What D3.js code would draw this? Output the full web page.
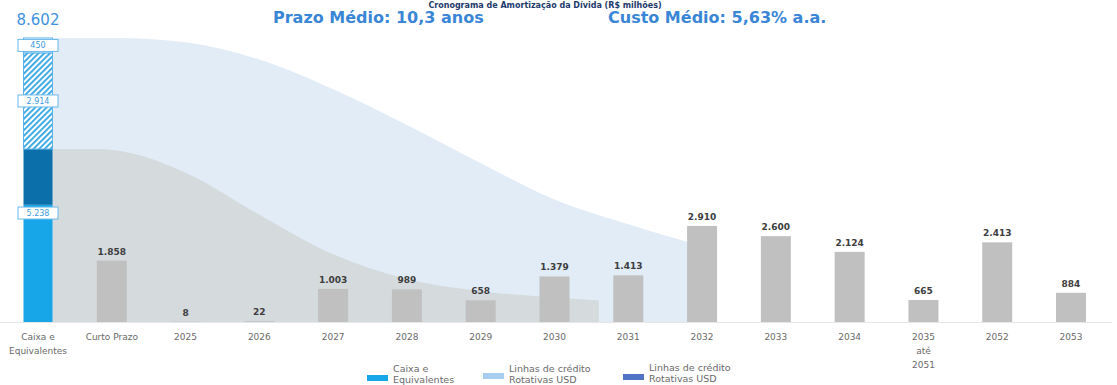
<!DOCTYPE html>
<html><head><meta charset="utf-8">
<script src="https://cdn.jsdelivr.net/npm/d3@7"></script>
<style>body{margin:0;background:#fff;} svg{display:block;}</style>
</head><body>
<svg id="c" width="1117" height="385"></svg>
<script>
// ---------- DATA ----------
const categories = ["Caixa e\nEquivalentes","Curto Prazo","2025","2026","2027","2028","2029","2030","2031","2032","2033","2034","2035\naté\n2051","2052","2053"];
const debtValues = [null,1858,8,22,1003,989,658,1379,1413,2910,2600,2124,665,2413,884];
const cashKeys = ["caixa","equivalentes","rotativasHatch","rotativasTop"];
const cashValues = [3550,1688,2914,450];
const cashBoxLabels = [5238,2914,450];
const cashTotal = 8602;
// liquidity envelope curves: [category position, value]
const lightCurve = [[0,8602],[1,8600],[1.6,8560],[2,8470],[3,7950],[4,7050],[5,5970],[6,4810],[7,3710],[8,2960],[9,2300]];
const grayCurve = [[0,5238],[0.8,5238],[1.25,5120],[2,4520],[3,3250],[4,2050],[5,1300],[6,930],[7,740],[7.6,650]];
const titleText = "Cronograma de Amortização da Dívida (R$ milhões)";
const subtitles = ["Prazo Médio: 10,3 anos","Custo Médio: 5,63% a.a."];
const legendLabels = [["Caixa e","Equivalentes"],["Linhas de crédito","Rotativas USD"],["Linhas de crédito","Rotativas USD"]];

// ---------- STYLE ----------
const cashColors = {caixa:"#17a6e8", equivalentes:"#0b70aa", rotativasHatch:"url(#hatch)", rotativasTop:"#ffffff"};
const legendColors = ["#17a6e8","#a9cdee","#5073c6"];

const loc = d3.formatLocale({decimal:",", thousands:".", grouping:[3], currency:["R$",""]});
const fmt = loc.format(",d");

const svg = d3.select("#c");
const defs = svg.append("defs");
const pat = defs.append("pattern").attr("id","hatch").attr("patternUnits","userSpaceOnUse")
  .attr("width",4).attr("height",4).attr("patternTransform","rotate(45)");
pat.append("rect").attr("width",4).attr("height",4).attr("fill","#ffffff");
pat.append("rect").attr("width",1.8).attr("height",4).attr("fill","#2ea3e2");

const baseY = 322, topY = 38;
const x = d3.scalePoint().domain(categories).range([38,1071]);
const xi = d3.scaleLinear().domain([0,categories.length-1]).range([38,1071]);
const y = d3.scaleLinear().domain([0,cashTotal]).range([baseY,topY]);
const barW = 30;

// background envelopes
const area = d3.area().x(d=>xi(d[0])).y0(baseY).y1(d=>y(d[1])).curve(d3.curveMonotoneX);
svg.append("path").datum(lightCurve).attr("d",area).attr("fill","#e1ecf6");
svg.append("path").datum(grayCurve).attr("d",area).attr("fill","#d5dadd");

// baseline
svg.append("line").attr("x1",0).attr("x2",1112).attr("y1",baseY+0.5).attr("y2",baseY+0.5)
  .attr("stroke","#e4e6e8").attr("stroke-width",1);

// debt bars
const debt = categories.map((c,i)=>({c, v:debtValues[i]})).filter(d=>d.v!=null);
svg.append("g").selectAll("rect").data(debt).join("rect")
  .attr("x",d=>x(d.c)-barW/2).attr("width",barW)
  .attr("y",d=>y(d.v)).attr("height",d=>baseY-y(d.v)).attr("fill","#c0c0c0");
svg.append("g").selectAll("text").data(debt).join("text")
  .attr("x",d=>x(d.c)).attr("y",d=>y(d.v)-6).attr("text-anchor","middle")
  .attr("font-family","DejaVu Sans").attr("font-weight","bold").attr("font-size",9)
  .attr("fill","#3d3d3d").text(d=>fmt(d.v));

// cash stacked bar
let acc = 0;
const segs = cashKeys.map((k,i)=>{const s={k, y0:acc, y1:acc+cashValues[i]}; acc+=cashValues[i]; return s;});
const cx = x(categories[0]);
svg.append("g").selectAll("rect").data(segs).join("rect")
  .attr("x",cx-barW/2+0.5).attr("width",barW-1)
  .attr("y",d=>y(d.y1)).attr("height",d=>y(d.y0)-y(d.y1))
  .attr("fill",d=>cashColors[d.k])
  .attr("stroke",d=>d.k==="rotativasHatch"||d.k==="rotativasTop"?"#5ab2ea":"none")
  .attr("stroke-width",1);

// cash label boxes
const boxPos = [3300, segs[2].y0+cashValues[2]/2, segs[3].y0+cashValues[3]/2];
const boxes = cashBoxLabels.map((v,i)=>({v, at:boxPos[i]}));
const bg = svg.append("g").selectAll("g").data(boxes).join("g")
  .attr("transform",d=>`translate(${cx},${y(d.at)})`);
bg.append("rect").attr("x",-20).attr("y",-6).attr("width",40).attr("height",12)
  .attr("fill","#ffffff").attr("stroke","#6ab9ec").attr("stroke-width",1);
bg.append("text").attr("y",3).attr("text-anchor","middle")
  .attr("font-family","DejaVu Sans").attr("font-size",8).attr("fill","#3c9be0").text(d=>fmt(d.v));
svg.append("text").attr("x",cx).attr("y",25).attr("text-anchor","middle")
  .attr("font-family","DejaVu Sans").attr("font-size",15).attr("fill","#3f93e0").text(fmt(cashTotal));

// x axis labels
const xl = svg.append("g").selectAll("text").data(categories).join("text")
  .attr("x",d=>x(d)).attr("y",340).attr("text-anchor","middle")
  .attr("font-family","DejaVu Sans").attr("font-size",9).attr("fill","#6a6a6a");
xl.selectAll("tspan").data(d=>d.split("\n")).join("tspan")
  .attr("x",function(){return x(d3.select(this.parentNode).datum());})
  .attr("dy",(d,i)=>i===0?0:14).text(d=>d);

// title (kept small in the thin top strip) and subtitles
svg.append("text").attr("x",545).attr("y",7.5).attr("text-anchor","middle")
  .attr("font-family","DejaVu Sans").attr("font-weight","bold").attr("font-size",8)
  .attr("fill","#1d3a6b").text(titleText);
const subX = [273,608];
svg.append("g").selectAll("text").data(subtitles).join("text")
  .attr("x",(d,i)=>subX[i]).attr("y",23)
  .attr("font-family","DejaVu Sans").attr("font-weight","bold").attr("font-size",16)
  .attr("fill","#3a86d6").text(d=>d);

// legend
const legX = [367,483,623], legSwY = [375,373,374], legTY = [372,372,371];
const lg = svg.append("g").selectAll("g").data(legendLabels).join("g");
lg.append("rect").attr("x",(d,i)=>legX[i]).attr("y",(d,i)=>legSwY[i]).attr("width",21).attr("height",6)
  .attr("fill",(d,i)=>legendColors[i]);
const lt = lg.append("text").attr("font-family","DejaVu Sans").attr("font-size",9.5).attr("fill","#6a6a6a");
lt.selectAll("tspan").data((d,i)=>d.map(t=>({t,i}))).join("tspan")
  .attr("x",d=>legX[d.i]+26).attr("y",(d,j)=>legTY[d.i]+j*10.5).text(d=>d.t);
</script>
</body></html>
